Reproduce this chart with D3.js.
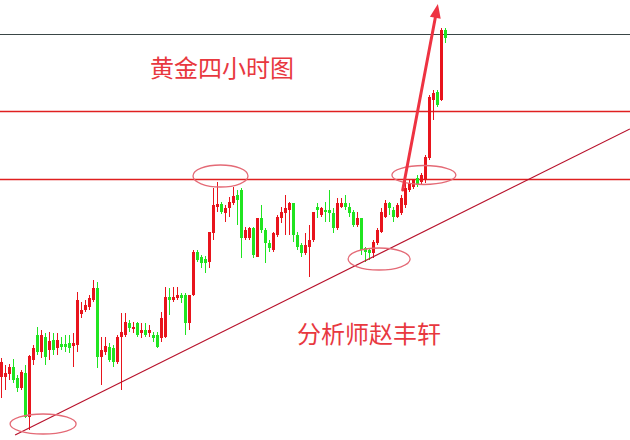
<!DOCTYPE html>
<html><head><meta charset="utf-8">
<script src="https://cdn.jsdelivr.net/npm/d3@7"></script>
<style>html,body{margin:0;padding:0;background:#fff;overflow:hidden}svg{display:block}</style>
</head><body>
<svg id="chart" width="630" height="440"></svg>
<script>
// 4-hour gold candles (price units), left to right
const open = [1863,1863,1866,1873,1862,1852,1867,1823,1880,1905,
1888,1903,1890,1900,1892,1896,1896,1897,1894,1895,
1926,1930,1933,1940,1952,1883,1888,1893,1892,1878,
1903,1905,1917,1911,1917,1907,1910,1907,1905,1905,
1902,1903,1943,1940,1942,1945,1945,1917,1945,1988,
1983,1981,1978,2007,2033,2036,2027,2032,2037,2045,
2050,2002,2002,2012,1983,2022,2010,1997,1990,2005,
2022,2027,2030,2037,2005,1995,1987,1993,2000,2033,
2025,2030,2030,2027,2012,2033,2037,2033,2028,2015,
2022,1992,1990,1987,1997,2008,2023,2037,2030,2023,
2027,2035,2050,2053,2062,2058,2060,2082,2140,2148,
2140,2210];
const close = [1878,1867,1873,1860,1852,1868,1823,1884,1892,1888,
1905,1883,1899,1890,1900,1893,1893,1892,1897,1940,
1930,1935,1942,1952,1883,1890,1894,1880,1878,1903,
1908,1918,1912,1913,1905,1910,1905,1910,1902,1893,
1922,1943,1940,1943,1945,1942,1917,1945,1988,1980,
1977,1977,2008,2035,2036,2028,2032,2038,2044,2040,
2002,2010,2012,1985,2022,2010,1997,1992,2007,2023,
2028,2032,2037,2005,1993,1987,1995,2000,2028,2030,
2032,2028,2027,2012,2037,2037,2033,2027,2015,2022,
1990,1988,1987,1998,2010,2028,2037,2032,2023,2035,
2042,2052,2057,2060,2055,2065,2083,2143,2147,2135,
2210,2202];
const high = [1882,1875,1876,1881,1865,1870,1875,1885,1895,1913,
1910,1907,1908,1907,1907,1903,1905,1905,1907,1948,
1938,1940,1945,1960,1958,1903,1903,1897,1895,1905,
1927,1927,1920,1918,1918,1917,1917,1915,1908,1908,
1928,1953,1952,1953,1953,1947,1947,1945,1990,1990,
1985,1984,2008,2052,2058,2038,2035,2043,2053,2050,
2052,2013,2013,2013,2022,2035,2012,2000,2008,2025,
2033,2045,2038,2037,2008,1997,2007,2015,2028,2037,
2033,2038,2050,2032,2042,2042,2045,2037,2030,2028,
2022,1993,1992,2000,2012,2032,2040,2038,2033,2037,
2045,2062,2060,2061,2065,2067,2085,2145,2150,2150,
2212,2212];
const low = [1842,1850,1860,1857,1848,1850,1822,1810,1875,1885,
1882,1875,1880,1885,1885,1890,1888,1887,1873,1888,
1922,1928,1930,1938,1872,1855,1885,1878,1873,1876,
1850,1903,1908,1907,1903,1902,1903,1903,1898,1892,
1898,1902,1925,1938,1940,1937,1905,1910,1944,1978,
1972,1967,1972,2000,2028,2026,2018,2023,2035,2015,
1982,2000,2000,1982,1983,2007,1977,1988,1988,2003,
2017,2005,2005,1998,1990,1983,1985,1963,1998,2022,
2023,2018,2018,2007,2010,2032,2030,2023,2013,2013,
1985,1978,1980,1982,1995,2007,2022,2025,2018,2022,
2025,2032,2048,2051,2053,2055,2057,2080,2120,2133,
2139,2197];

// horizontal levels (price)
const levelPrices = [2206, 2129, 2061];
const levelColors = ["#3a4646", "#e02020", "#e02020"];
// rising support line: [bar index, price]
const trendPoints = [[3.4, 1805], [157.1, 2111]];
// circled areas: centers [bar index, price]
const ellipseCenters = [[10.4, 1816], [54.75, 2064], [94.4, 1981], [105.6, 2065]];
// arrow from / to [bar index, price]
const arrowFrom = [100.3, 2050];
const arrowTo = [109.1, 2236];
// annotation texts
const labels = ["黄金四小时图", "分析师赵丰轩"];
const labelAnchors = [[37.1, 2163], [73.9, 1897]];

const W = 630, H = 440;
const RED = "#e8141c", GREEN = "#20e420";
const idx = d3.range(open.length);

const svg = d3.select("#chart");
svg.append("rect").attr("width", W).attr("height", H).attr("fill", "#fff");

const x = d3.scaleBand().domain(idx).range([-0.5, 447.5]).paddingInner(0.25).paddingOuter(0.125);
const xi = d3.scaleLinear().domain([0, open.length - 1]).range([x(0) + x.bandwidth() / 2, x(open.length - 1) + x.bandwidth() / 2]);
const y = d3.scaleLinear().domain([1800, 2240]).range([H, 0]);

// level lines
const lv = svg.append("g");
levelPrices.forEach((p, k) => {
  lv.append("line")
    .attr("x1", 0).attr("x2", W)
    .attr("y1", Math.round(y(p)) + 0.5).attr("y2", Math.round(y(p)) + 0.5)
    .style("stroke", levelColors[k])
    .attr("stroke-width", k === 0 ? 1.2 : 1.3);
});

// candles
const g = svg.append("g").attr("shape-rendering", "crispEdges");
const col = i => close[i] >= open[i] ? RED : GREEN;
g.selectAll("rect.wick").data(idx).join("rect").attr("class", "wick")
  .attr("x", i => Math.round(x(i) + x.bandwidth() / 2 - 0.5))
  .attr("width", 1)
  .attr("y", i => Math.round(y(high[i])))
  .attr("height", i => Math.max(1, Math.round(y(low[i])) - Math.round(y(high[i]))))
  .attr("fill", col);
g.selectAll("rect.body").data(idx).join("rect").attr("class", "body")
  .attr("x", i => Math.round(x(i)))
  .attr("width", x.bandwidth())
  .attr("y", i => Math.round(y(Math.max(open[i], close[i]))))
  .attr("height", i => Math.max(1, Math.round(y(Math.min(open[i], close[i]))) - Math.round(y(Math.max(open[i], close[i])))))
  .attr("fill", col);

// trend line
svg.append("line")
  .attr("x1", xi(trendPoints[0][0])).attr("y1", y(trendPoints[0][1]))
  .attr("x2", xi(trendPoints[1][0])).attr("y2", y(trendPoints[1][1]))
  .attr("stroke", "#b8122c").attr("stroke-width", 1.2);

// ellipses
const radii = [[33, 10], [27.5, 11], [31, 11], [32, 9.5]];
svg.append("g").selectAll("ellipse").data(ellipseCenters).join("ellipse")
  .attr("cx", d => xi(d[0])).attr("cy", d => y(d[1]))
  .attr("rx", (d, i) => radii[i][0]).attr("ry", (d, i) => radii[i][1])
  .attr("fill", "none").attr("stroke", "#e46a76").attr("stroke-width", 1.3);

// arrow
const ax0 = xi(arrowFrom[0]), ay0 = y(arrowFrom[1]);
const ax1 = xi(arrowTo[0]), ay1 = y(arrowTo[1]);
const dx = ax1 - ax0, dy = ay1 - ay0, len = Math.hypot(dx, dy);
const ux = dx / len, uy = dy / len;
const headLen = 14, headHalf = 5.5;
const bx = ax1 - ux * headLen, by = ay1 - uy * headLen;
svg.append("line").attr("x1", ax0).attr("y1", ay0).attr("x2", bx + ux * 2).attr("y2", by + uy * 2)
  .attr("stroke", "#ee3342").attr("stroke-width", 3).attr("stroke-linecap", "round");
svg.append("path")
  .attr("d", `M${ax1},${ay1} L${bx - uy * headHalf},${by + ux * headHalf} L${bx + uy * headHalf},${by - ux * headHalf} Z`)
  .attr("fill", "#ee3342");

// labels
svg.append("g").selectAll("text").data(labels).join("text")
  .attr("x", (d, i) => xi(labelAnchors[i][0]))
  .attr("y", (d, i) => y(labelAnchors[i][1]))
  .attr("font-family", "'Noto Sans CJK SC', 'Noto Sans', sans-serif")
  .attr("font-size", 24)
  .attr("fill", "#e8383f")
  .text(d => d);
</script>
</body></html>
